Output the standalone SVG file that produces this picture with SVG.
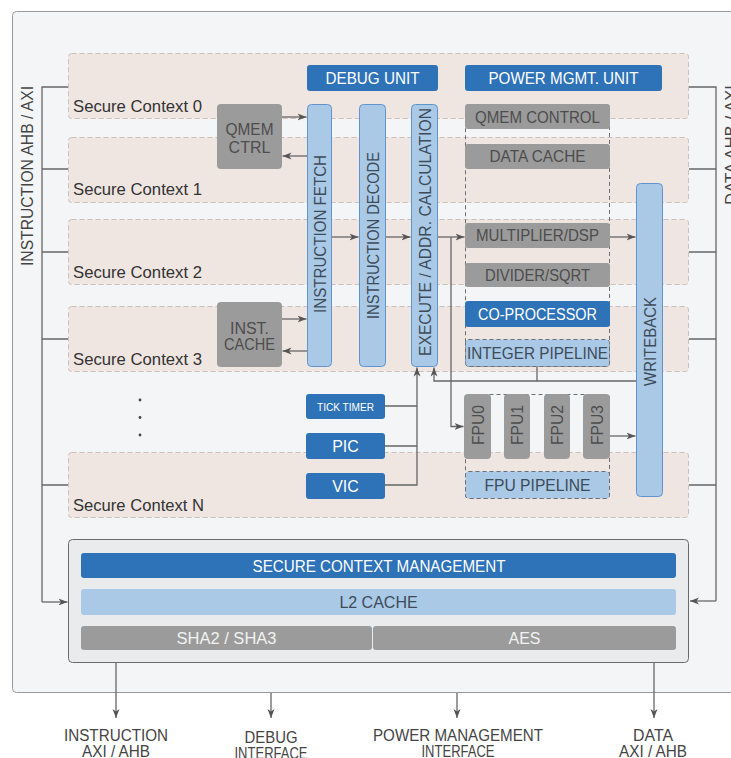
<svg xmlns="http://www.w3.org/2000/svg" width="731" height="758" viewBox="0 0 731 758">
<defs>
<marker id="ah" markerWidth="10" markerHeight="8" refX="9" refY="4" orient="auto" markerUnits="userSpaceOnUse"><path d="M0,0.5 L9,4 L0,7.5 L2.5,4 z" fill="#555"/></marker>
</defs>
<style>
text { font-family: "Liberation Sans", Arial, sans-serif; }
.ctx { fill:#efe6e2; stroke:#cdbfba; stroke-dasharray:5 3; }
.ctxl { font-size:16.5px; fill:#333; }
.blue { fill:#2e72b8; }
.lb { fill:#a9c9e6; stroke:#5f95cc; }
.lbd { fill:#a9c9e6; stroke:#6b6f75; stroke-dasharray:4 3; }
.gray { fill:#9b9b9b; }
.wt { fill:#fff; font-size:16px; text-anchor:middle; }
.dk { fill:#4d4d4d; font-size:16px; text-anchor:middle; }
.bt { fill:#3e4b59; font-size:16px; text-anchor:middle; }
.vt { fill:#3e4b59; font-size:17px; text-anchor:middle; }
.conn { stroke:#666; stroke-width:1.3; fill:none; }
.arr { marker-end:url(#ah); }
.dash { fill:none; stroke:#6b6f75; stroke-dasharray:4 3; }
.lbl { fill:#444; font-size:16px; text-anchor:middle; }
</style>
<rect x="0" y="0" width="731" height="758" fill="#fff"/>
<rect x="12.5" y="11.5" width="740" height="681" rx="4" fill="#f3f5f7" stroke="#9a9a9a"/>

<g id="contexts">
<g id="ctx0"><rect class="ctx" x="68.5" y="53.5" width="620" height="65" rx="3"/><text class="ctxl" x="73" y="112" textLength="129" lengthAdjust="spacingAndGlyphs">Secure Context 0</text></g>
<g id="ctx1"><rect class="ctx" x="68.5" y="137.5" width="620" height="65" rx="3"/><text class="ctxl" x="73" y="195" textLength="129" lengthAdjust="spacingAndGlyphs">Secure Context 1</text></g>
<g id="ctx2"><rect class="ctx" x="68.5" y="219.5" width="620" height="65" rx="3"/><text class="ctxl" x="73" y="277.5" textLength="129" lengthAdjust="spacingAndGlyphs">Secure Context 2</text></g>
<g id="ctx3"><rect class="ctx" x="68.5" y="306.5" width="620" height="65" rx="3"/><text class="ctxl" x="73" y="364.5" textLength="129" lengthAdjust="spacingAndGlyphs">Secure Context 3</text></g>
<g id="ctxN"><rect class="ctx" x="68.5" y="452.5" width="620" height="65" rx="3"/><text class="ctxl" x="73" y="510.5" textLength="131" lengthAdjust="spacingAndGlyphs">Secure Context N</text></g>
<g id="dots" fill="#444"><circle cx="140" cy="400" r="1.4"/><circle cx="140" cy="417.5" r="1.4"/><circle cx="140" cy="435" r="1.4"/></g>
</g>

<g id="bus-labels">
<text transform="translate(33,176) rotate(-90)" style="font-size:17px" fill="#444" text-anchor="middle" textLength="180" lengthAdjust="spacingAndGlyphs">INSTRUCTION AHB / AXI</text>
<text transform="translate(737,145) rotate(-90)" style="font-size:17px" fill="#444" text-anchor="middle" textLength="120" lengthAdjust="spacingAndGlyphs">DATA AHB / AXI</text>
</g>

<g id="connectors">
<path class="conn" d="M68,87 H42 V602"/>
<path class="conn" d="M42,169 H68 M42,252 H68 M42,339 H68 M42,485 H68"/>
<path class="conn arr" d="M42,602 H67.5"/>
<path class="conn" d="M689,87 H716 V601"/>
<path class="conn" d="M689,169 H716 M689,252 H716 M689,339 H716 M689,485 H716"/>
<path class="conn arr" d="M716,601 H690"/>
<path class="conn arr" d="M282,117 H306.5"/>
<path class="conn arr" d="M307,156 H282.5"/>
<path class="conn arr" d="M282,319 H306.5"/>
<path class="conn arr" d="M307,351 H282.5"/>
<path class="conn arr" d="M332,237 H358.5"/>
<path class="conn arr" d="M386,237 H410.5"/>
<path class="conn arr" d="M438,237 H464.5"/>
<path class="conn arr" d="M610,237 H635.5"/>
<path class="conn arr" d="M451,237 V426.5 H463.5"/>
<path class="conn arr" d="M610,436 H635.5"/>
<path class="conn arr" d="M636,381 H434 V367.5"/>
<path class="conn" d="M537,367 V381"/>
<path class="conn" d="M385,406 H417 M385,446 H417"/>
<path class="conn arr" d="M385,485 H417 V367.5"/>
<path class="conn arr" d="M116,663 V718"/>
<path class="conn arr" d="M271,693 V718"/>
<path class="conn arr" d="M457,693 V718"/>
<path class="conn arr" d="M654,663 V718"/>
</g>

<g id="debug-unit"><rect class="blue" x="307" y="65" width="131" height="26" rx="3"/><text class="wt" x="372.5" y="84" textLength="94" lengthAdjust="spacingAndGlyphs">DEBUG UNIT</text></g>
<g id="power-mgmt-unit"><rect class="blue" x="465" y="65" width="197" height="26" rx="3"/><text class="wt" x="563.5" y="84" textLength="150" lengthAdjust="spacingAndGlyphs">POWER MGMT. UNIT</text></g>

<g id="qmem-ctrl"><rect class="gray" x="217" y="104" width="65" height="65" rx="4"/><text class="dk" x="249.5" y="134.5" textLength="48" lengthAdjust="spacingAndGlyphs">QMEM</text><text class="dk" x="249.5" y="153">CTRL</text></g>
<g id="inst-cache"><rect class="gray" x="217" y="302" width="65" height="65" rx="4"/><text class="dk" x="249.5" y="333.5">INST.</text><text class="dk" x="249.5" y="350" textLength="51" lengthAdjust="spacingAndGlyphs">CACHE</text></g>

<g id="instruction-fetch"><rect class="lb" x="307.5" y="104.5" width="24" height="262" rx="4"/><text transform="translate(325.5,234) rotate(-90)" class="vt" textLength="158" lengthAdjust="spacingAndGlyphs">INSTRUCTION FETCH</text></g>
<g id="instruction-decode"><rect class="lb" x="359.5" y="104.5" width="26" height="262" rx="4"/><text transform="translate(378.5,235.5) rotate(-90)" class="vt" textLength="167" lengthAdjust="spacingAndGlyphs">INSTRUCTION DECODE</text></g>
<g id="execute"><rect class="lb" x="411.5" y="104.5" width="26" height="262" rx="4"/><text transform="translate(430.5,232) rotate(-90)" class="vt" textLength="248" lengthAdjust="spacingAndGlyphs">EXECUTE / ADDR. CALCULATION</text></g>

<g id="integer-group">
<rect class="dash" x="465.5" y="104.5" width="144" height="262" rx="3"/>
<g id="qmem-control"><rect class="gray" x="465" y="104" width="145" height="25" rx="3"/><text class="dk" x="537.5" y="122.5" textLength="125" lengthAdjust="spacingAndGlyphs">QMEM CONTROL</text></g>
<g id="data-cache"><rect class="gray" x="465" y="144" width="145" height="25" rx="3"/><text class="dk" x="537.5" y="162" textLength="96" lengthAdjust="spacingAndGlyphs">DATA CACHE</text></g>
<g id="multiplier"><rect class="gray" x="465" y="223" width="145" height="25" rx="3"/><text class="dk" x="537.5" y="241" textLength="123" lengthAdjust="spacingAndGlyphs">MULTIPLIER/DSP</text></g>
<g id="divider"><rect class="gray" x="465" y="263" width="145" height="24" rx="3"/><text class="dk" x="537.5" y="280.5" textLength="105" lengthAdjust="spacingAndGlyphs">DIVIDER/SQRT</text></g>
<g id="co-processor"><rect class="blue" x="465" y="301" width="145" height="26" rx="3"/><text class="wt" x="537.5" y="319.5" textLength="119" lengthAdjust="spacingAndGlyphs">CO-PROCESSOR</text></g>
<g id="integer-pipeline"><rect class="lbd" x="465.5" y="339.5" width="144" height="27" rx="3"/><text class="bt" x="537.5" y="359" textLength="141" lengthAdjust="spacingAndGlyphs">INTEGER PIPELINE</text></g>
</g>

<g id="fpu-group">
<rect class="dash" x="465.5" y="394.5" width="144" height="104" rx="3"/>
<g id="fpu0"><rect class="gray" x="464" y="394" width="27" height="65" rx="4"/><text transform="translate(483.5,425) rotate(-90)" class="dk" textLength="40" lengthAdjust="spacingAndGlyphs">FPU0</text></g>
<g id="fpu1"><rect class="gray" x="504" y="394" width="26" height="65" rx="4"/><text transform="translate(523,425) rotate(-90)" class="dk" textLength="40" lengthAdjust="spacingAndGlyphs">FPU1</text></g>
<g id="fpu2"><rect class="gray" x="544" y="394" width="26" height="65" rx="4"/><text transform="translate(563,425) rotate(-90)" class="dk" textLength="40" lengthAdjust="spacingAndGlyphs">FPU2</text></g>
<g id="fpu3"><rect class="gray" x="583" y="394" width="27" height="65" rx="4"/><text transform="translate(602.5,425) rotate(-90)" class="dk" textLength="40" lengthAdjust="spacingAndGlyphs">FPU3</text></g>
<g id="fpu-pipeline"><rect class="lbd" x="465.5" y="471.5" width="144" height="27" rx="3"/><text class="bt" x="537.5" y="491" textLength="106" lengthAdjust="spacingAndGlyphs">FPU PIPELINE</text></g>
</g>

<g id="writeback"><rect class="lb" x="636.5" y="183.5" width="26" height="313" rx="4"/><text transform="translate(655.5,341.5) rotate(-90)" class="vt" textLength="89" lengthAdjust="spacingAndGlyphs">WRITEBACK</text></g>

<g id="tick-timer"><rect class="blue" x="306" y="394" width="79" height="25" rx="3"/><text class="wt" x="345.5" y="410.5" style="font-size:10.5px" textLength="57" lengthAdjust="spacingAndGlyphs">TICK TIMER</text></g>
<g id="pic"><rect class="blue" x="306" y="433" width="79" height="26" rx="3"/><text class="wt" x="345.5" y="452">PIC</text></g>
<g id="vic"><rect class="blue" x="306" y="473" width="79" height="26" rx="3"/><text class="wt" x="345.5" y="492">VIC</text></g>

<g id="secure-context-management-block">
<rect x="68.5" y="539.5" width="620" height="123" rx="4" fill="#e9ebed" stroke="#6a6a6a"/>
<g id="scm"><rect class="blue" x="81" y="553" width="595" height="25" rx="3"/><text class="wt" x="379" y="572" textLength="253" lengthAdjust="spacingAndGlyphs">SECURE CONTEXT MANAGEMENT</text></g>
<g id="l2-cache"><rect x="81" y="589" width="595" height="26" rx="3" fill="#a9c9e6"/><text class="bt" x="378.5" y="608">L2 CACHE</text></g>
<g id="sha"><rect class="gray" x="81" y="626" width="291" height="24" rx="3"/><text x="226.5" y="644" style="font-size:16px" fill="#f2f2f2" text-anchor="middle" textLength="100" lengthAdjust="spacingAndGlyphs">SHA2 / SHA3</text></g>
<g id="aes"><rect class="gray" x="373" y="626" width="303" height="24" rx="3"/><text x="524.5" y="644" style="font-size:16px" fill="#f2f2f2" text-anchor="middle">AES</text></g>
</g>

<g id="outputs">
<g id="out-instruction"><text class="lbl" x="116" y="741" textLength="104" lengthAdjust="spacingAndGlyphs">INSTRUCTION</text><text class="lbl" x="116" y="757" textLength="68" lengthAdjust="spacingAndGlyphs">AXI / AHB</text></g>
<g id="out-debug"><text class="lbl" x="271" y="743" textLength="53" lengthAdjust="spacingAndGlyphs">DEBUG</text><text class="lbl" x="271" y="759" textLength="73" lengthAdjust="spacingAndGlyphs">INTERFACE</text></g>
<g id="out-power"><text class="lbl" x="458" y="740.5" textLength="170" lengthAdjust="spacingAndGlyphs">POWER MANAGEMENT</text><text class="lbl" x="458" y="757" textLength="73" lengthAdjust="spacingAndGlyphs">INTERFACE</text></g>
<g id="out-data"><text class="lbl" x="653" y="740.5" textLength="40" lengthAdjust="spacingAndGlyphs">DATA</text><text class="lbl" x="653" y="757" textLength="68" lengthAdjust="spacingAndGlyphs">AXI / AHB</text></g>
</g>
</svg>
